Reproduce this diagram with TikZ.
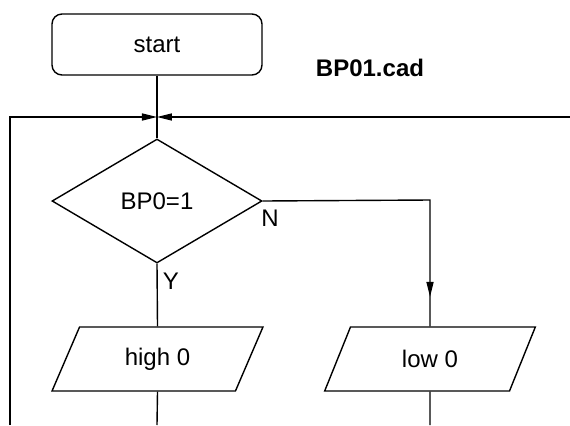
\documentclass[tikz,border=0pt]{standalone}
\usepackage{fontspec}
\setmainfont{Liberation Sans}
\usetikzlibrary{arrows.meta, positioning, shapes.geometric, decorations.markings}
\tikzset{
  termnode/.style = {draw, rounded corners=5pt, minimum width=105pt,
                     minimum height=30.5pt, inner sep=0pt},
  testnode/.style = {draw, diamond, minimum width=105pt, minimum height=62pt,
                     inner sep=0pt},
  ionode/.style   = {draw, trapezium, trapezium left angle=62.7,
                     trapezium right angle=117.3, trapezium stretches=true,
                     minimum width=105.5pt, minimum height=32pt, inner sep=0pt},
  flow/.style     = {-{Triangle[length=7.5pt, width=3.5pt]}},
  midflow/.style  = {decoration={markings, mark=at position 0.9 with
                     {\arrow{Triangle[length=7.5pt, width=3.5pt]}}},
                     postaction={decorate}},
}

\begin{document}
\begin{tikzpicture}[x=0.5pt, y=-0.5pt, line width=0.7pt, font=\fontsize{12pt}{14pt}\selectfont]
    \useasboundingbox (0,0) rectangle (570,425);

    % --- nodes --------------------------------------------------------------
    \node[termnode] (start) at (157,44.5) {start};
    \node[font=\fontsize{12pt}{14pt}\selectfont\bfseries] (title) at (370,68) {BP01.cad};
    \node[testnode] (test) at (157,201) {BP0=1};
    \node[ionode] (high) at (157.5,359) {high 0};
    \node[ionode] (low) at (430,359) {low 0};
    \node (no) at (270,218) {N};
    \node (yes) at (171,281) {Y};

    % --- helper points ------------------------------------------------------
    \coordinate (join) at (157,117);
    \coordinate (loopL) at (10,117);
    \coordinate (loopLend) at (10,425);
    \coordinate (loopR) at (570,117);
    \coordinate (turn) at (430,200);
    \coordinate (highend) at (157,425);
    \coordinate (lowend) at (430,425);

    % --- edges --------------------------------------------------------------
    \draw (start) -- (test.north);
    \draw[flow] (loopLend) -- (loopL) -- (join);
    \draw[flow] (loopR) -- (join);
    \draw (test.south) -- (high.north);
    \draw[midflow] (test.east) -- (turn) -- (low.north);
    \draw (high.south) -- (highend);
    \draw (low.south) -- (lowend);
\end{tikzpicture}
\end{document}
